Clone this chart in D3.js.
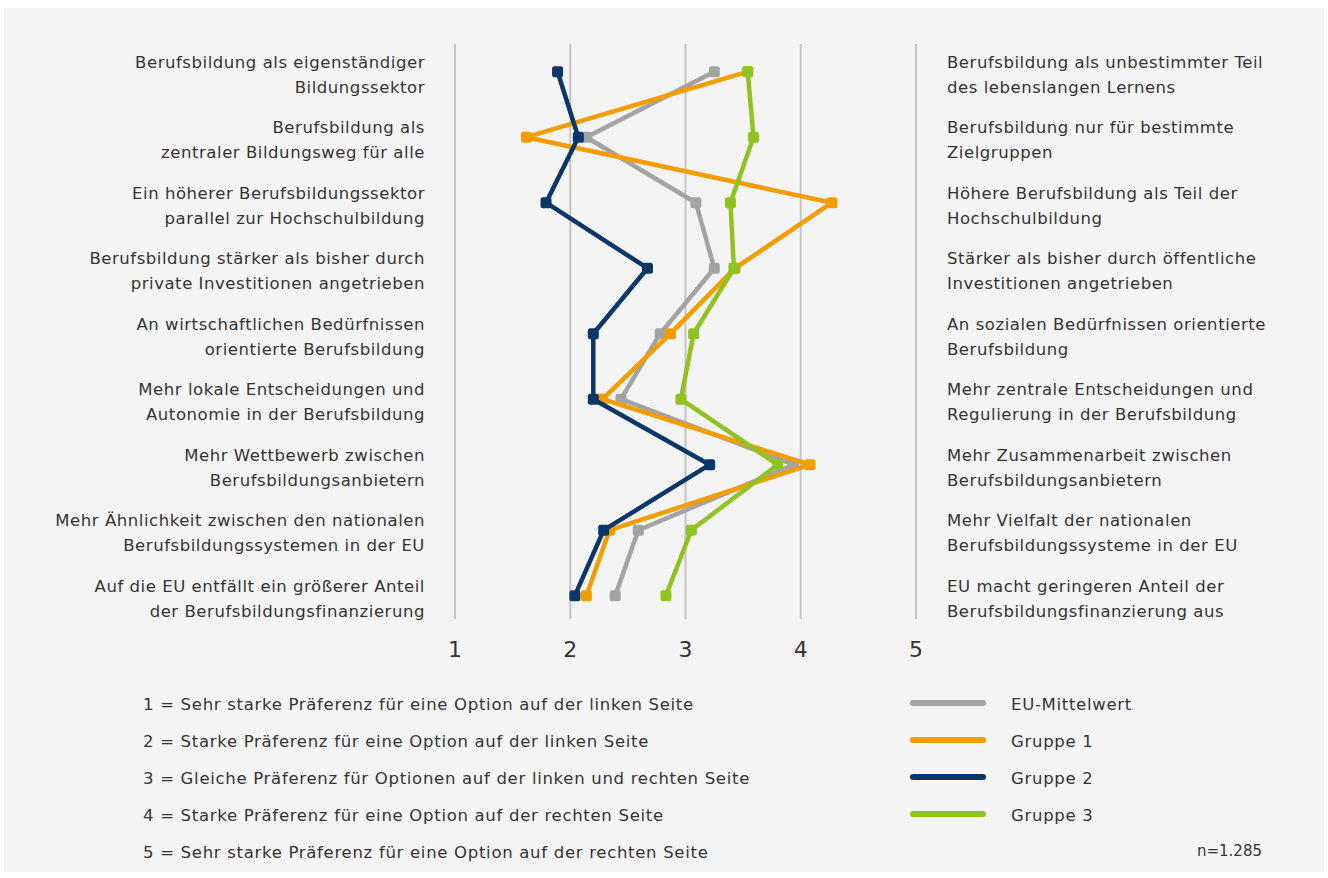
<!DOCTYPE html>
<html>
<head>
<meta charset="utf-8">
<script src="https://cdn.jsdelivr.net/npm/d3@7"></script>
<style>
  body { margin: 0; background: #fff; }
  svg text { font-family: "DejaVu Sans", sans-serif; fill: #333; }
</style>
</head>
<body>
<svg id="chart"></svg>
<script>
const width = 1328, height = 878

// left and right statements for each row (two lines each)
const leftLabels = [
  ["Berufsbildung als eigenständiger", "Bildungssektor"],
  ["Berufsbildung als", "zentraler Bildungsweg für alle"],
  ["Ein höherer Berufsbildungssektor", "parallel zur Hochschulbildung"],
  ["Berufsbildung stärker als bisher durch", "private Investitionen angetrieben"],
  ["An wirtschaftlichen Bedürfnissen", "orientierte Berufsbildung"],
  ["Mehr lokale Entscheidungen und", "Autonomie in der Berufsbildung"],
  ["Mehr Wettbewerb zwischen", "Berufsbildungsanbietern"],
  ["Mehr Ähnlichkeit zwischen den nationalen", "Berufsbildungssystemen in der EU"],
  ["Auf die EU entfällt ein größerer Anteil", "der Berufsbildungsfinanzierung"]
]
const rightLabels = [
  ["Berufsbildung als unbestimmter Teil", "des lebenslangen Lernens"],
  ["Berufsbildung nur für bestimmte", "Zielgruppen"],
  ["Höhere Berufsbildung als Teil der", "Hochschulbildung"],
  ["Stärker als bisher durch öffentliche", "Investitionen angetrieben"],
  ["An sozialen Bedürfnissen orientierte", "Berufsbildung"],
  ["Mehr zentrale Entscheidungen und", "Regulierung  in der Berufsbildung"],
  ["Mehr Zusammenarbeit zwischen", "Berufsbildungsanbietern"],
  ["Mehr Vielfalt der nationalen", "Berufsbildungssysteme in der EU"],
  ["EU macht geringeren Anteil der", "Berufsbildungsfinanzierung aus"]
]

const seriesNames = ["EU-Mittelwert", "Gruppe 1", "Gruppe 2", "Gruppe 3"]
const euMittel = [3.25, 2.14, 3.09, 3.25, 2.78, 2.44, 3.94, 2.59, 2.39]
const gruppe1  = [3.54, 1.62, 4.27, 3.43, 2.87, 2.28, 4.08, 2.34, 2.14]
const gruppe2  = [1.89, 2.07, 1.79, 2.67, 2.20, 2.20, 3.21, 2.29, 2.04]
const gruppe3  = [3.54, 3.59, 3.39, 3.42, 3.07, 2.96, 3.80, 3.05, 2.83]
const colors = ["#a3a3a3", "#f59c00", "#0b3768", "#8fc31f"]

const ticks = [1, 2, 3, 4, 5]
const scaleNotes = [
  "1 = Sehr starke Präferenz für eine Option auf der linken Seite",
  "2 = Starke Präferenz für eine Option auf der linken Seite",
  "3 = Gleiche Präferenz für Optionen auf der linken und rechten Seite",
  "4 = Starke Präferenz für eine Option auf der rechten Seite",
  "5 = Sehr starke Präferenz für eine Option auf der rechten Seite"
]
const nNote = "n=1.285"

const svg = d3.select("#chart")
  .attr("width", width)
  .attr("height", height)

svg.append("rect")
  .attr("x", 4).attr("y", 8)
  .attr("width", 1320).attr("height", 864)
  .attr("fill", "#f4f4f4")

const rows = d3.range(leftLabels.length)
const x = d3.scaleLinear().domain([1, 5]).range([455, 916])
const y = d3.scalePoint().domain(rows).range([71.7, 595.7])

// gridlines
svg.append("g").selectAll("line").data(ticks).join("line")
  .attr("x1", d => x(d)).attr("x2", d => x(d))
  .attr("y1", 44).attr("y2", 619)
  .attr("stroke", "#c4c4c4").attr("stroke-width", 2)

// tick labels
svg.append("g").selectAll("text").data(ticks).join("text")
  .attr("x", d => x(d)).attr("y", 657)
  .attr("text-anchor", "middle")
  .style("font-size", "22px")
  .text(d => d)

// row labels
const lab = (labels, xpos, anchor) => {
  svg.append("g").selectAll("text").data(labels).join("text")
    .attr("text-anchor", anchor)
    .style("font-size", "16.5px")
    .style("letter-spacing", "0.55px")
    .each(function (d, i) {
      d3.select(this).selectAll("tspan").data(d).join("tspan")
        .attr("x", xpos)
        .attr("y", (t, j) => y(i) - 4 + j * 25)
        .text(t => t)
    })
}
lab(leftLabels, 425, "end")
lab(rightLabels, 947, "start")

// series
const series = [euMittel, gruppe1, gruppe2, gruppe3]
const line = d3.line().x(d => x(d)).y((d, i) => y(i))
series.forEach((vals, k) => {
  const g = svg.append("g")
  g.append("path").datum(vals)
    .attr("d", line)
    .attr("fill", "none")
    .attr("stroke", colors[k])
    .attr("stroke-width", 4.5)
    .attr("stroke-linejoin", "round")
  g.selectAll("rect").data(vals).join("rect")
    .attr("x", d => x(d) - 5.5)
    .attr("y", (d, i) => y(i) - 5.5)
    .attr("width", 11).attr("height", 11)
    .attr("rx", 2.5)
    .attr("fill", colors[k])
})

// scale notes
svg.append("g").selectAll("text").data(scaleNotes).join("text")
  .attr("x", 143).attr("y", (d, i) => 710 + i * 37)
  .style("font-size", "16.5px")
  .style("letter-spacing", "0.7px")
  .text(d => d)

// legend
const leg = svg.append("g").selectAll("g").data(seriesNames).join("g")
  .attr("transform", (d, i) => `translate(0,${703 + i * 37})`)
leg.append("line")
  .attr("x1", 913).attr("x2", 983)
  .attr("stroke", (d, i) => colors[i])
  .attr("stroke-width", 6)
  .attr("stroke-linecap", "round")
leg.append("text")
  .attr("x", 1011).attr("y", 7)
  .style("font-size", "16.5px")
  .style("letter-spacing", "0.7px")
  .text(d => d)

svg.append("text")
  .attr("x", 1262).attr("y", 856)
  .attr("text-anchor", "end")
  .style("font-size", "15px")
  .text(nNote)
</script>
</body>
</html>
